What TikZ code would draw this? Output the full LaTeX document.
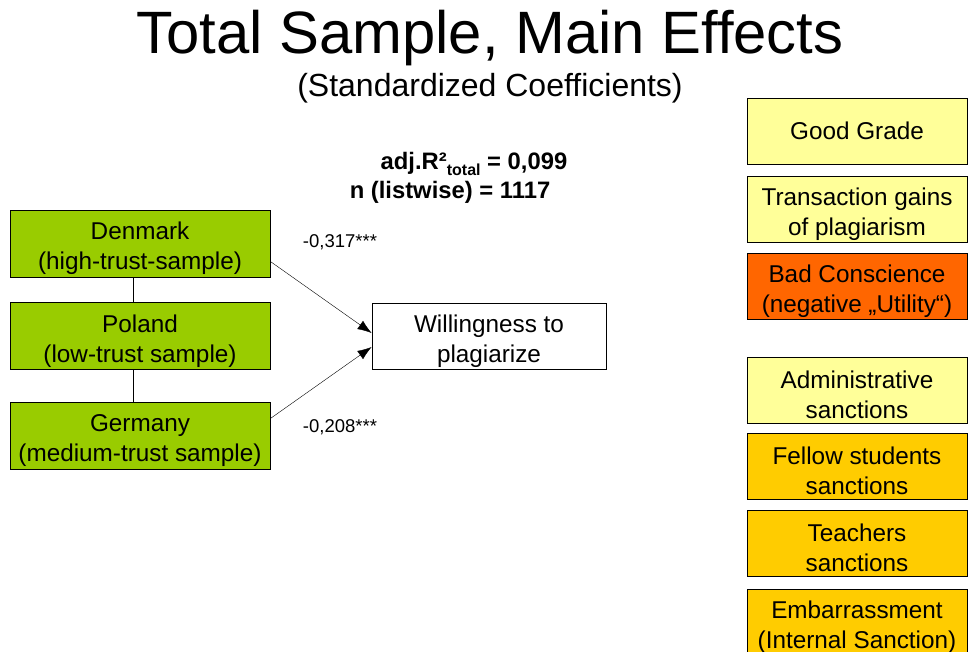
\documentclass[tikz,border=0pt]{standalone}
\usepackage{fontspec}
\setmainfont{Liberation Sans}
\usetikzlibrary{arrows.meta}
\definecolor{country}{HTML}{99CC00}
\definecolor{pale}{HTML}{FFFF99}
\definecolor{gold}{HTML}{FFCC00}
\definecolor{hot}{HTML}{FF6600}
\newcommand{\tall}{\rule{0pt}{28pt}}
\tikzset{
  box/.style={draw,line width=0.8pt,align=center,inner sep=0pt,
    font=\fontsize{24.3}{30}\selectfont},
  left box/.style={box,fill=country,minimum width=260,minimum height=67},
  right box/.style={box,minimum width=220,minimum height=66},
  coef/.style={font=\fontsize{18.5}{20}\selectfont},
  fit/.style={font=\fontsize{23.8}{26}\selectfont\bfseries}
}
\begin{document}
\begin{tikzpicture}[x=1pt,y=-1pt,>={Latex[length=14pt,width=10pt]}]
        \useasboundingbox (0,0) rectangle (973,652);
        \node (title) at (490,38) {\fontsize{59.8}{62}\selectfont Total Sample, Main Effects};
        \node (sub) at (490,88) {\fontsize{32}{34}\selectfont (Standardized Coefficients)};
        \node (fit1) at (474,164) [fit] {adj.R²\raisebox{-0.45ex}{\fontsize{16}{16}\selectfont total} = 0,099};
        \node (fit2) at (450,192) [fit] {n (listwise) = 1117};
        \node (Denmark) at (140,243.5) [left box] {\tall Denmark\\(high-trust-sample)};
        \node (Poland) at (140,336) [left box] {\tall Poland\\(low-trust sample)};
        \node (Germany) at (140,435.5) [left box] {\tall Germany\\(medium-trust sample)};
        \node (Will) at (489,336) [box,minimum width=234,minimum height=66] {\tall Willingness to\\plagiarize};
        \draw ([xshift=-7pt]Denmark.south) -- ([xshift=-7pt]Poland.north);
        \draw ([xshift=-7pt]Poland.south) -- ([xshift=-7pt]Germany.north);
        \draw[->] ([yshift=-18pt]Denmark.east) -- ([yshift=3pt]Will.west);
        \draw[->] ([yshift=17pt]Germany.east) -- ([yshift=-11pt]Will.west);
        \node (c1) at (340,242) [coef] {-0,317***};
        \node (c2) at (340,427) [coef] {-0,208***};
        \node (Grade) at (857,131) [right box,fill=pale] {Good Grade};
        \node (Gains) at (857,209.5) [right box,fill=pale] {\tall Transaction gains\\of plagiarism};
        \node (Conscience) at (857,286) [right box,fill=hot] {\tall Bad Conscience\\(negative „Utility“)};
        \node (Admin) at (857,390) [right box,fill=pale] {\tall Administrative\\sanctions};
        \node (Fellow) at (857,466) [right box,fill=gold] {\tall Fellow students\\sanctions};
        \node (Teachers) at (857,543) [right box,fill=gold] {\tall Teachers\\sanctions};
        \node (Embarr) at (857,622) [right box,fill=gold] {\tall Embarrassment\\(Internal Sanction)};
      \end{tikzpicture}
\end{document}
